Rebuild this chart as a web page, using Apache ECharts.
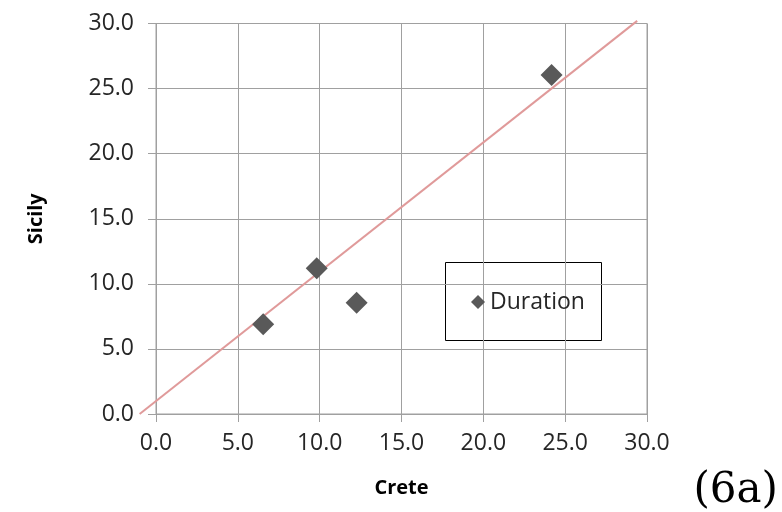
<!DOCTYPE html>
<html>
<head>
<meta charset="utf-8">
<script src="https://cdn.jsdelivr.net/npm/echarts@6/dist/echarts.min.js"></script>
<style>html,body{margin:0;padding:0;background:#fff;}#c{width:782px;height:512px;}</style>
</head>
<body>
<div id="c"></div>
<script>
var seriesName = 'Duration';
var creteValues = [6.55, 9.82, 12.26, 24.17];
var sicilyValues = [6.89, 11.19, 8.55, 26.04];
var trendX = [-1.0, 29.4];
var trendY = [0.0, 30.2];
var xTitle = 'Crete';
var yTitle = 'Sicily';
var figLabel = '(6a)';

var points = creteValues.map(function (x, i) { return [x, sicilyValues[i]]; });
var trendSeg = [[trendX[0], trendY[0], trendX[1], trendY[1]]];

var gridColor = '#a0a0a0';
var textColor = '#262626';
var font = 'Open Sans';

function axis(name, isX) {
  return {
    type: 'value', min: 0, max: 30, interval: 5,
    name: name, nameLocation: 'middle',
    nameGap: isX ? 64 : 110,
    nameTextStyle: { fontFamily: font, fontWeight: 'bold', fontSize: 20, color: '#000' },
    axisLine: { show: true, lineStyle: { color: gridColor, width: 1 } },
    axisTick: { show: true, length: 8, lineStyle: { color: gridColor, width: 1 } },
    axisLabel: {
      fontFamily: font, fontSize: 23, color: textColor,
      margin: isX ? 18 : 22,
      formatter: function (v) { return v.toFixed(1); }
    },
    splitLine: { show: true, lineStyle: { color: gridColor, width: 1 } }
  };
}

var chart = echarts.init(document.getElementById('c'));
chart.setOption({
  animation: false,
  backgroundColor: '#fff',
  grid: { left: 156, right: 135, top: 23.5, bottom: 98, show: true, borderColor: gridColor, borderWidth: 1, backgroundColor: 'transparent' },
  xAxis: axis(xTitle, true),
  yAxis: axis(yTitle, false),
  legend: {
    data: [{ name: seriesName, icon: 'diamond', itemStyle: { color: '#595959', opacity: 1 } }],
    left: 471, top: 289, padding: 0,
    itemWidth: 14, itemHeight: 14, itemGap: 5,
    textStyle: { fontFamily: font, fontSize: 23, color: textColor, lineHeight: 26 }
  },
  graphic: [
    { type: 'rect', left: 445, top: 262, z: 0, shape: { width: 156, height: 78 }, style: { fill: '#fff', stroke: '#000', lineWidth: 1 } },
    { type: 'text', right: 4, bottom: 0, style: { text: figLabel, font: '42px "DejaVu Serif"', fill: '#000' } }
  ],
  series: [
    {
      name: 'trend', type: 'custom', data: trendSeg, clip: false, silent: true, z: 3,
      encode: { x: [0, 2], y: [1, 3] },
      renderItem: function (params, api) {
        var p1 = api.coord([api.value(0), api.value(1)]);
        var p2 = api.coord([api.value(2), api.value(3)]);
        return {
          type: 'line',
          shape: { x1: p1[0], y1: p1[1], x2: p2[0], y2: p2[1] },
          style: { stroke: '#e09a9a', lineWidth: 2 }
        };
      }
    },
    {
      name: seriesName, type: 'scatter', data: points, symbol: 'diamond', symbolSize: 22,
      itemStyle: { color: '#595959', opacity: 1 }, z: 4
    }
  ]
});
</script>
</body>
</html>
